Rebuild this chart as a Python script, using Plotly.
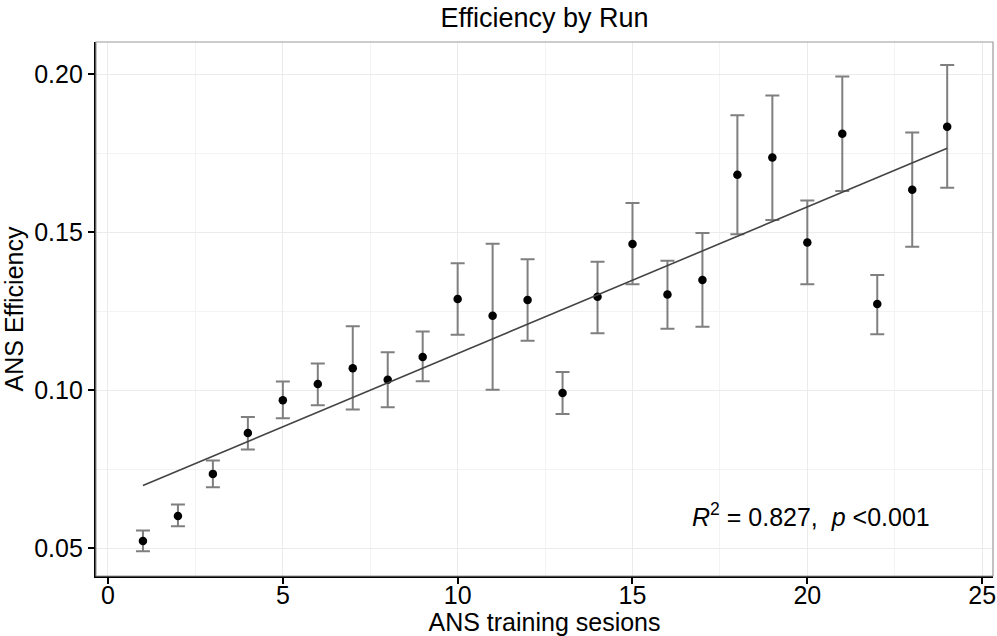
import numpy as np
import plotly.graph_objects as go

sessions = list(range(1, 25))
efficiency = [0.0524, 0.0603, 0.0736, 0.0865, 0.0969, 0.1020, 0.1070, 0.1034,
              0.1106, 0.1289, 0.1236, 0.1286, 0.0992, 0.1296, 0.1463, 0.1303,
              0.1349, 0.1682, 0.1737, 0.1468, 0.1812, 0.1273, 0.1635, 0.1834]
err_upper = [0.0557, 0.0639, 0.0778, 0.0916, 0.1028, 0.1085, 0.1203, 0.1121,
             0.1186, 0.1402, 0.1464, 0.1415, 0.1058, 0.1407, 0.1593, 0.1410,
             0.1498, 0.1870, 0.1933, 0.1601, 0.1993, 0.1365, 0.1816, 0.2029]
err_lower = [0.0491, 0.0570, 0.0694, 0.0813, 0.0912, 0.0953, 0.0940, 0.0947,
             0.1029, 0.1176, 0.1002, 0.1157, 0.0925, 0.1181, 0.1336, 0.1195,
             0.1201, 0.1494, 0.1539, 0.1336, 0.1631, 0.1178, 0.1454, 0.1641]

x = np.array(sessions, dtype=float)
y = np.array(efficiency)
plus = np.array(err_upper) - y
minus = y - np.array(err_lower)

slope, intercept = np.polyfit(x, y, 1)
fit_x = np.array([x.min(), x.max()])
fit_y = slope * fit_x + intercept

FONT = "Liberation Sans, Arial, sans-serif"

fig = go.Figure()
fig.add_trace(go.Scatter(
    x=x, y=y, mode="markers",
    marker=dict(color="black", size=8.5),
    error_y=dict(type="data", symmetric=False, array=plus, arrayminus=minus,
                 color="#7f7f7f", thickness=2, width=7),
    showlegend=False, hoverinfo="skip"))
fig.add_trace(go.Scatter(
    x=fit_x, y=fit_y, mode="lines",
    line=dict(color="#444444", width=1.6),
    showlegend=False, hoverinfo="skip"))

fig.add_annotation(
    x=16.65, y=0.0605, xref="x", yref="y", xanchor="left", yanchor="middle",
    text="<i>R</i><sup>2</sup> = 0.827,&nbsp;&nbsp;<i>p</i> &lt;0.001",
    showarrow=False, font=dict(family=FONT, size=25, color="black"))

fig.add_shape(type="rect", xref="paper", yref="paper", x0=0, x1=1, y0=0, y1=1,
              line=dict(color="#9a9a9a", width=1.2), layer="above")

axis_common = dict(
    showgrid=True, gridcolor="#ebebeb", gridwidth=1,
    zeroline=False, showline=True, linecolor="black", linewidth=2.2,
    ticks="outside", ticklen=6, tickwidth=1.5, tickcolor="black",
    tickfont=dict(family=FONT, size=25, color="black"),
)

fig.update_layout(
    width=997, height=636,
    margin=dict(l=96, r=4, t=42, b=60, autoexpand=False),
    paper_bgcolor="white", plot_bgcolor="white",
    font=dict(family=FONT, size=25, color="black"),
    title=dict(text="Efficiency by Run", x=0.5, xref="paper", xanchor="center",
               y=1 - 18 / 636, yref="container", yanchor="middle",
               font=dict(family=FONT, size=27, color="black")),
    xaxis=dict(range=[-0.343, 25.31], tick0=0, dtick=5, ticklabelstandoff=-10,
               title=dict(text="ANS training sesions", standoff=12,
                          font=dict(family=FONT, size=25, color="black")),
               minor=dict(dtick=2.5, tick0=0, showgrid=True,
                          gridcolor="#f3f3f3", gridwidth=1, ticks=""),
               **axis_common),
    yaxis=dict(range=[0.0413, 0.2102], tick0=0.05, dtick=0.05, tickformat=".2f",
               title=dict(text="ANS Efficiency", standoff=6,
                          font=dict(family=FONT, size=25, color="black")),
               minor=dict(dtick=0.025, tick0=0.025, showgrid=True,
                          gridcolor="#f3f3f3", gridwidth=1, ticks=""),
               **axis_common),
)

fig.write_html("out.html")
